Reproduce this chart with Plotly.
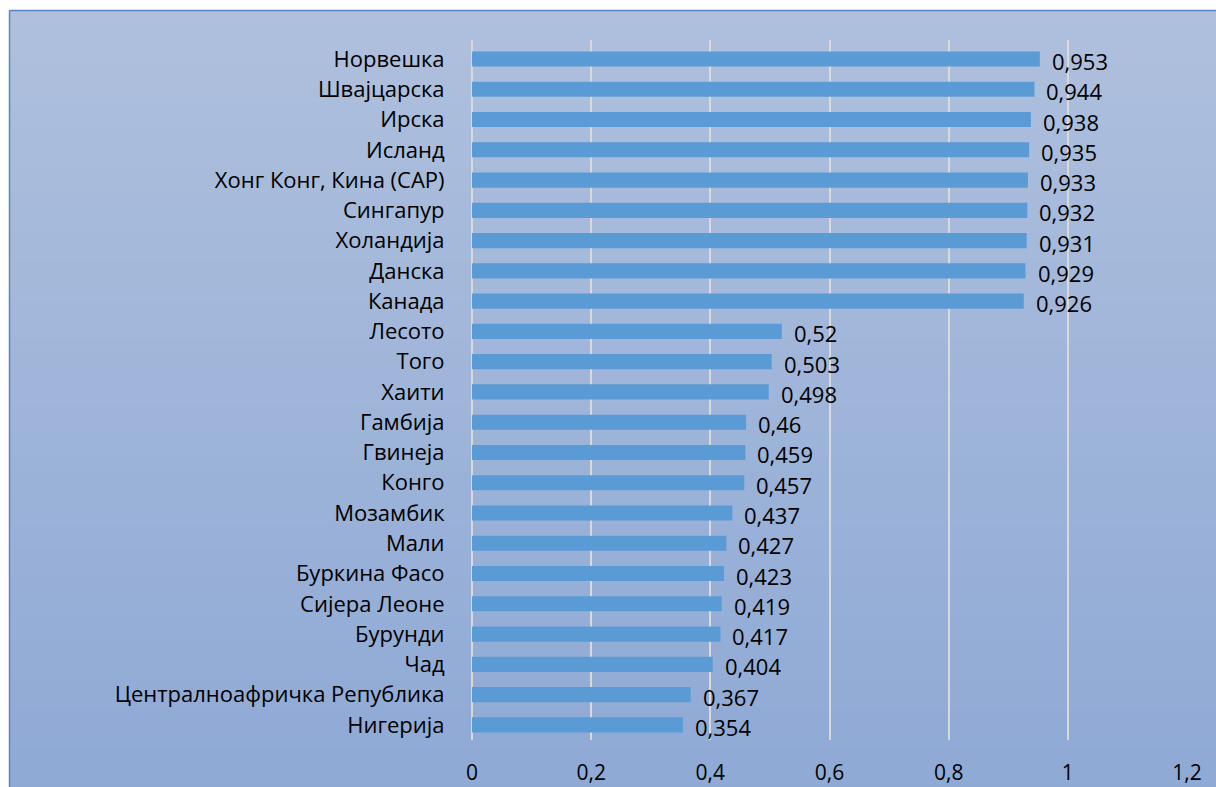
import plotly.graph_objects as go

countries = ["Норвешка", "Швајцарска", "Ирска", "Исланд", "Хонг Конг, Кина (САР)",
             "Сингапур", "Холандија", "Данска", "Канада", "Лесото", "Того", "Хаити",
             "Гамбија", "Гвинеја", "Конго", "Мозамбик", "Мали", "Буркина Фасо",
             "Сијера Леоне", "Бурунди", "Чад", "Централноафричка Република", "Нигерија"]
values = [0.953, 0.944, 0.938, 0.935, 0.933, 0.932, 0.931, 0.929, 0.926, 0.52, 0.503,
          0.498, 0.46, 0.459, 0.457, 0.437, 0.427, 0.423, 0.419, 0.417, 0.404, 0.367, 0.354]
x_ticks = [0, 0.2, 0.4, 0.6, 0.8, 1, 1.2]
x_tick_labels = ["0", "0,2", "0,4", "0,6", "0,8", "1", "1,2"]

W, H = 1216, 787
L, R, T, B = 472, 29, 40, 47
FONT = "Open Sans"
FS = 22

def fmt(v):
    s = ("%.3f" % v).rstrip("0").rstrip(".")
    return s.replace(".", ",")

fig = go.Figure()
fig.add_trace(go.Bar(
    x=values, y=countries, orientation="h",
    marker=dict(color="#5b9bd5", line=dict(width=0)),
    width=0.5, hoverinfo="skip",
))

for c, v in zip(countries, values):
    fig.add_annotation(x=v, y=c, xref="x", yref="y", text=fmt(v), showarrow=False,
                       xanchor="left", yanchor="middle", xshift=10, yshift=-2,
                       font=dict(family=FONT, size=FS, color="#000000"))

# gradient background box (paper coords)
pw, ph = W - L - R, H - T - B
def px2x(px): return (px - L) / pw
def py2y(py): return (H - B - py) / ph
top_c = (175, 192, 221)
bot_c = (142, 169, 213)
n = 60
y_top, y_bot = 10, 800
for i in range(n):
    f = (i + 0.5) / n
    col = tuple(round(top_c[k] + (bot_c[k] - top_c[k]) * f) for k in range(3))
    p0 = y_top + (y_bot - y_top) * i / n
    p1 = y_top + (y_bot - y_top) * (i + 1) / n + 1
    fig.add_shape(type="rect", xref="paper", yref="paper",
                  x0=px2x(9), x1=px2x(1240), y0=py2y(p1), y1=py2y(p0),
                  fillcolor="rgb(%d,%d,%d)" % col, line=dict(width=0), layer="below")
# border
fig.add_shape(type="line", xref="paper", yref="paper", x0=px2x(9.5), x1=px2x(1240),
              y0=py2y(10.5), y1=py2y(10.5), line=dict(color="#5a85c4", width=1.5), layer="below")
fig.add_shape(type="line", xref="paper", yref="paper", x0=px2x(9.5), x1=px2x(9.5),
              y0=py2y(10.5), y1=py2y(800), line=dict(color="#5a85c4", width=1.5), layer="below")

fig.update_layout(
    width=W, height=H,
    margin=dict(l=L, r=R, t=T, b=B, pad=0, autoexpand=False),
    paper_bgcolor="white", plot_bgcolor="rgba(0,0,0,0)",
    showlegend=False, bargap=0.5,
    font=dict(family=FONT, size=FS, color="#000000"),
    xaxis=dict(range=[0, 1.2], tickvals=x_ticks, ticktext=x_tick_labels, automargin=False,
               showgrid=True, gridcolor="#d9d9d9", gridwidth=1.5,
               zeroline=True, zerolinecolor="#d9d9d9", zerolinewidth=1.5,
               showline=False, ticks="outside", ticklen=14, tickcolor="rgba(0,0,0,0)",
               tickfont=dict(family=FONT, size=FS - 1, color="#000000"), fixedrange=True),
    yaxis=dict(autorange="reversed", showgrid=False, zeroline=False, showline=False,
               automargin=False,
               ticks="outside", ticklen=22, tickcolor="rgba(0,0,0,0)",
               tickfont=dict(family=FONT, size=FS, color="#000000"), fixedrange=True),
)

fig.write_html("out.html")
